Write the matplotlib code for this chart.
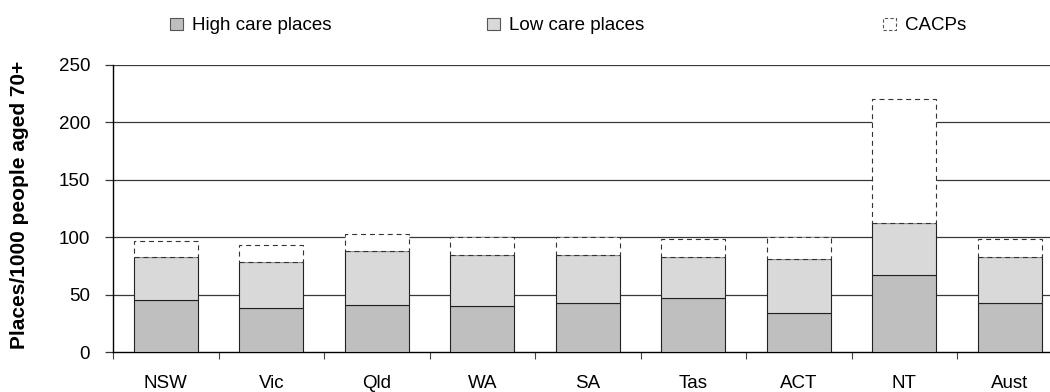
import matplotlib
matplotlib.use("Agg")
import matplotlib.pyplot as plt
import numpy as np
from matplotlib.patches import Patch

plt.rcParams['font.family'] = ['Liberation Sans', 'DejaVu Sans']

states = ['NSW', 'Vic', 'Qld', 'WA', 'SA', 'Tas', 'ACT', 'NT', 'Aust']
high_care = [45.5, 38.3, 41.1, 40.0, 42.6, 47.0, 34.4, 67.2, 42.6]
low_care = [37.1, 40.2, 47.3, 44.3, 41.7, 35.6, 46.7, 45.5, 40.0]
cacps = [14.4, 14.5, 14.2, 15.7, 15.7, 15.4, 18.9, 107.0, 15.4]
series_names = ['High care places', 'Low care places', 'CACPs']
yticks = [0, 50, 100, 150, 200, 250]

HIGH_COL = '#bfbfbf'
LOW_COL = '#d9d9d9'
EDGE = '#222222'
GRID = '#383838'
FS = 13.5

W, H = 1050, 392
fig = plt.figure(figsize=(W / 100, H / 100), dpi=100)
# axes run a little past the right edge of the figure, like the original export
ax = fig.add_axes([113 / W, 39.7 / H, 949.5 / W, 287.8 / H])

x = np.arange(len(states))
bw = 0.607
bottom2 = np.array(high_care)
bottom3 = bottom2 + np.array(low_care)

ax.bar(x, high_care, bw, color=HIGH_COL, edgecolor=EDGE, linewidth=0.8, zorder=3)
ax.bar(x, low_care, bw, bottom=bottom2, color=LOW_COL, edgecolor=EDGE,
       linewidth=0.8, zorder=3)
ax.bar(x, cacps, bw, bottom=bottom3, color='white', edgecolor='#333333',
       linewidth=0.8, linestyle=(0, (4.5, 3.5)), zorder=3)

ax.set_xlim(-0.5, len(states) - 0.5)
ax.set_ylim(0, 250)
ax.set_yticks(yticks)
ax.set_yticklabels([str(v) for v in yticks], fontsize=FS)
for v in yticks[1:]:
    ax.axhline(v, color=GRID, linewidth=0.9, zorder=1)

# category boundaries get tick marks, names sit at the centres
ax.set_xticks(np.arange(len(states) + 1) - 0.5)
ax.set_xticklabels([])
ax.set_xticks(x, minor=True)
ax.set_xticklabels(states, minor=True, fontsize=FS)
ax.tick_params(axis='x', which='major', direction='out', length=5, width=0.8,
               color='#444444')
ax.tick_params(axis='x', which='minor', length=0, pad=16)
ax.tick_params(axis='y', direction='out', length=6, width=0.9, color=GRID, pad=10.5)

for s in ['top', 'right']:
    ax.spines[s].set_visible(False)
ax.spines['left'].set_linewidth(1.0)
ax.spines['bottom'].set_linewidth(1.0)

fig.text(20 / W, 1 - 205 / H, 'Places/1000 people aged 70+', rotation=90,
         fontsize=15, fontweight='bold', ha='center', va='center')

handles = [
    Patch(facecolor=HIGH_COL, edgecolor='#555555', linewidth=0.8),
    Patch(facecolor=LOW_COL, edgecolor='#555555', linewidth=0.8),
    Patch(facecolor='white', edgecolor='#555555', linewidth=0.8,
          linestyle=(0, (3, 2))),
]
legend_x = [170, 487, 883]
for h, name, lx in zip(handles, series_names, legend_x):
    fig.legend([h], [name], loc='center left', bbox_to_anchor=(lx / W, 1 - 26 / H),
               frameon=False, fontsize=FS, handlelength=0.7, handleheight=0.65,
               handletextpad=0.45, borderpad=0, borderaxespad=0)

fig.savefig('out.png', dpi=100)
